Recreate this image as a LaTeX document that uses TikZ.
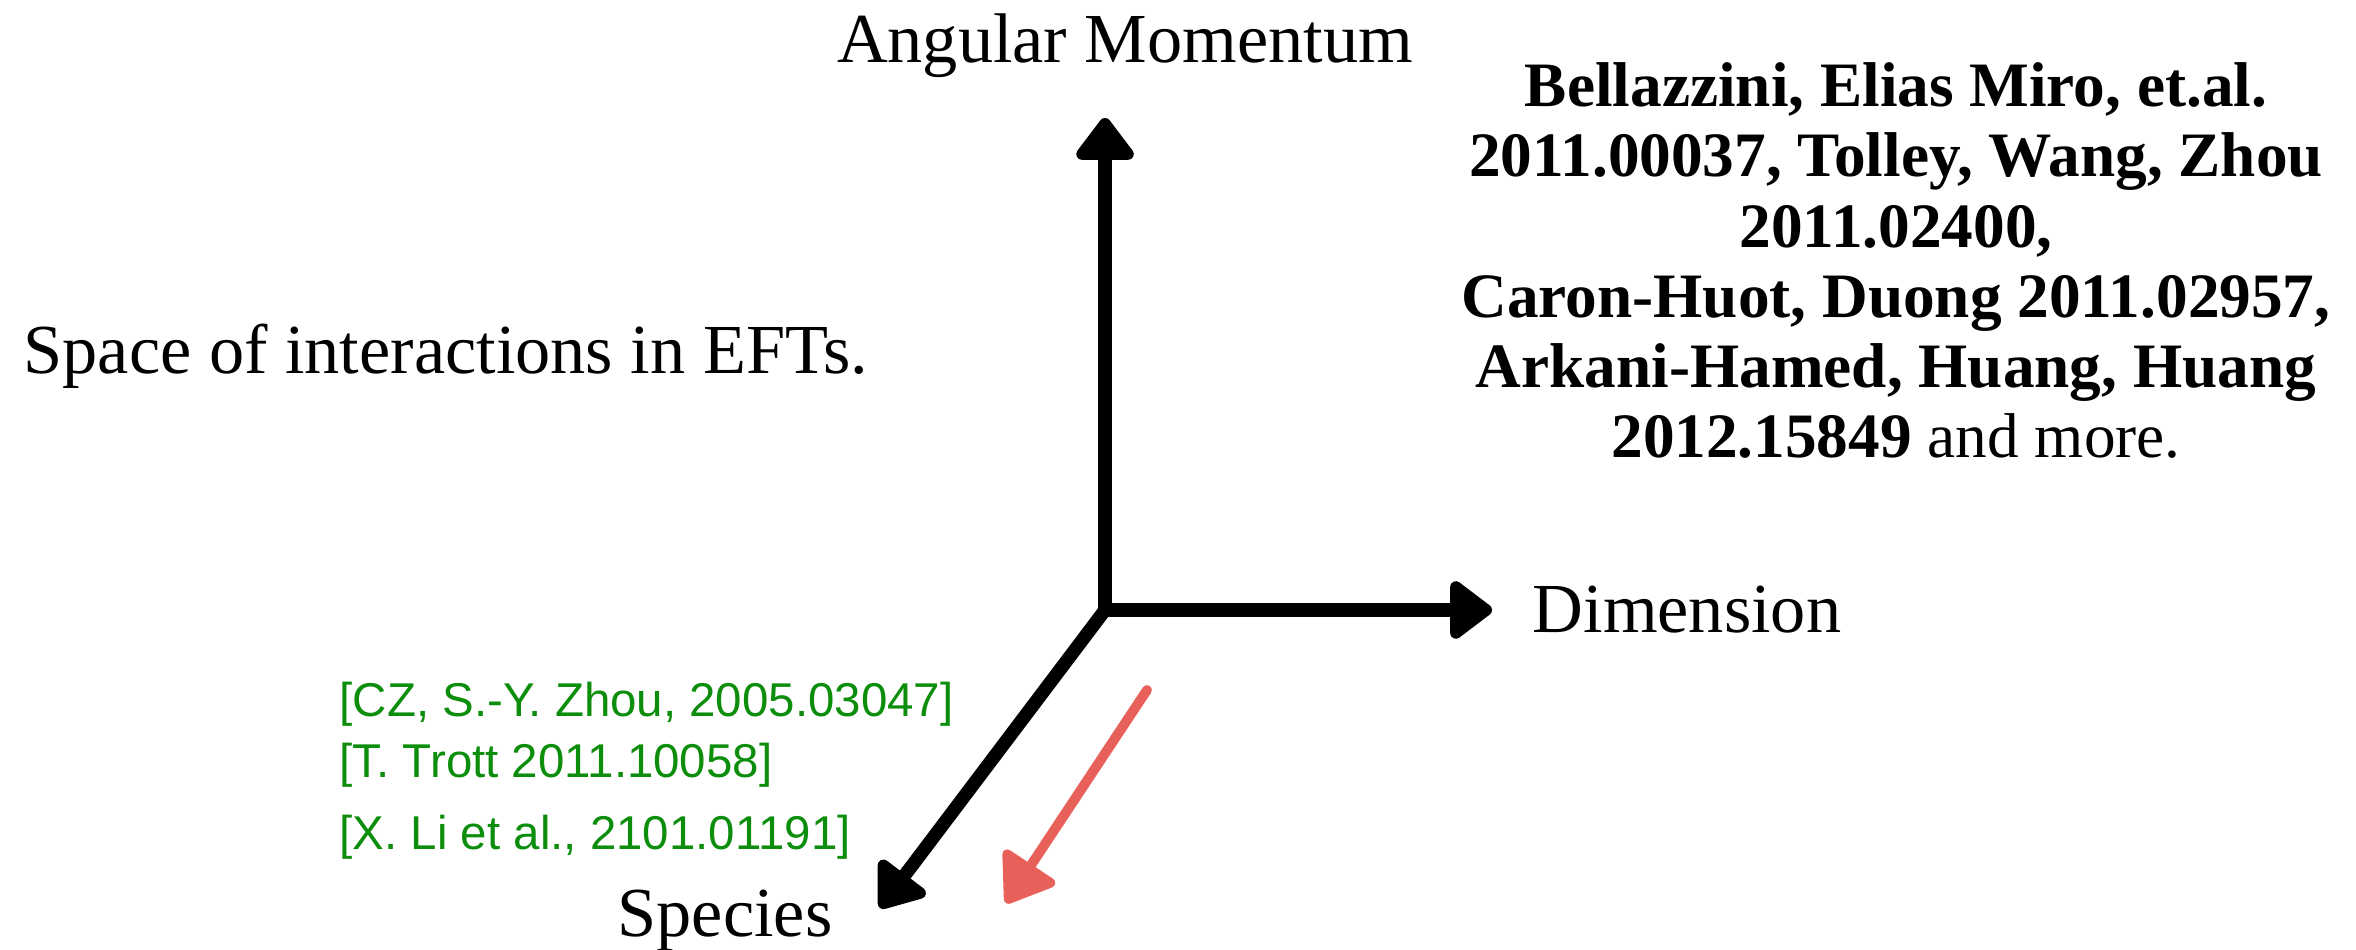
\documentclass[tikz,border=0pt]{standalone}
\usepackage{fontspec}
\setmainfont{Liberation Serif}
\newfontfamily\refsans{Liberation Sans}
\usetikzlibrary{arrows.meta}
\definecolor{refgreen}{RGB}{12,142,12}
\definecolor{sketchred}{RGB}{232,96,90}

\begin{document}
\begin{tikzpicture}
  \tikzset{myaxis/.style={-{Triangle[length=4.6mm, width=6.6mm, round]}, line width=3.8pt, line cap=round, line join=round}};
  \tikzset{myhint/.style={-{Triangle[length=5mm, width=6.8mm, round]}, line width=2.8pt, draw=sketchred, line cap=round}};
  \tikzset{mylabel/.style={inner sep=0pt, font=\fontsize{20}{24}\selectfont}};
  \tikzset{myref/.style={inner sep=0pt, anchor=base west, text=refgreen, font=\refsans\fontsize{13.5}{16}\selectfont}};

  \useasboundingbox (0,0) rectangle (23.56,9.5);

  % axes
  \coordinate (o) at (11.05,3.40);
  \coordinate (ytip) at (11.05,8.32);
  \coordinate (xtip) at (14.92,3.40);
  \coordinate (ztip) at (8.80,0.42);
  \draw [myaxis] (o) -- (ytip);
  \draw [myaxis] (o) -- (xtip);
  \draw [myaxis] (o) -- (ztip);

  \node[mylabel, above=4mm, xshift=2mm] (ang) at (ytip) {Angular Momentum};
  \node[mylabel, right=4mm] (dim) at (xtip) {Dimension};
  \node[mylabel, anchor=base west] (spec) at (6.17,0.13) {Species};

  \node[mylabel, anchor=base west] (space) at (0.23,5.76) {Space of interactions in EFTs.};

  % references (base = last line)
  \node[mylabel, anchor=base, align=center, font=\bfseries\fontsize{18}{20}\selectfont] (refs) at (18.96,4.92)
    {Bellazzini, Elias Miro, et.al.\\ 2011.00037, Tolley, Wang, Zhou\\ 2011.02400,\\
     Caron-Huot, Duong 2011.02957,\\ Arkani-Hamed, Huang, Huang\\ 2012.15849 \textmd{and more.}};

  \node[myref] (cz) at (3.39,2.33) {[CZ, S.-Y. Zhou, 2005.03047]};
  \node[myref] (trott) at (3.39,1.72) {[T. Trott 2011.10058]};
  \node[myref] (li) at (3.39,1.00) {[X. Li et al., 2101.01191]};

  % hint along the species axis
  \coordinate (hs) at (11.47,2.60);
  \coordinate (he) at (10.06,0.47);
  \draw [myhint] (hs) -- (he);
\end{tikzpicture}
\end{document}
